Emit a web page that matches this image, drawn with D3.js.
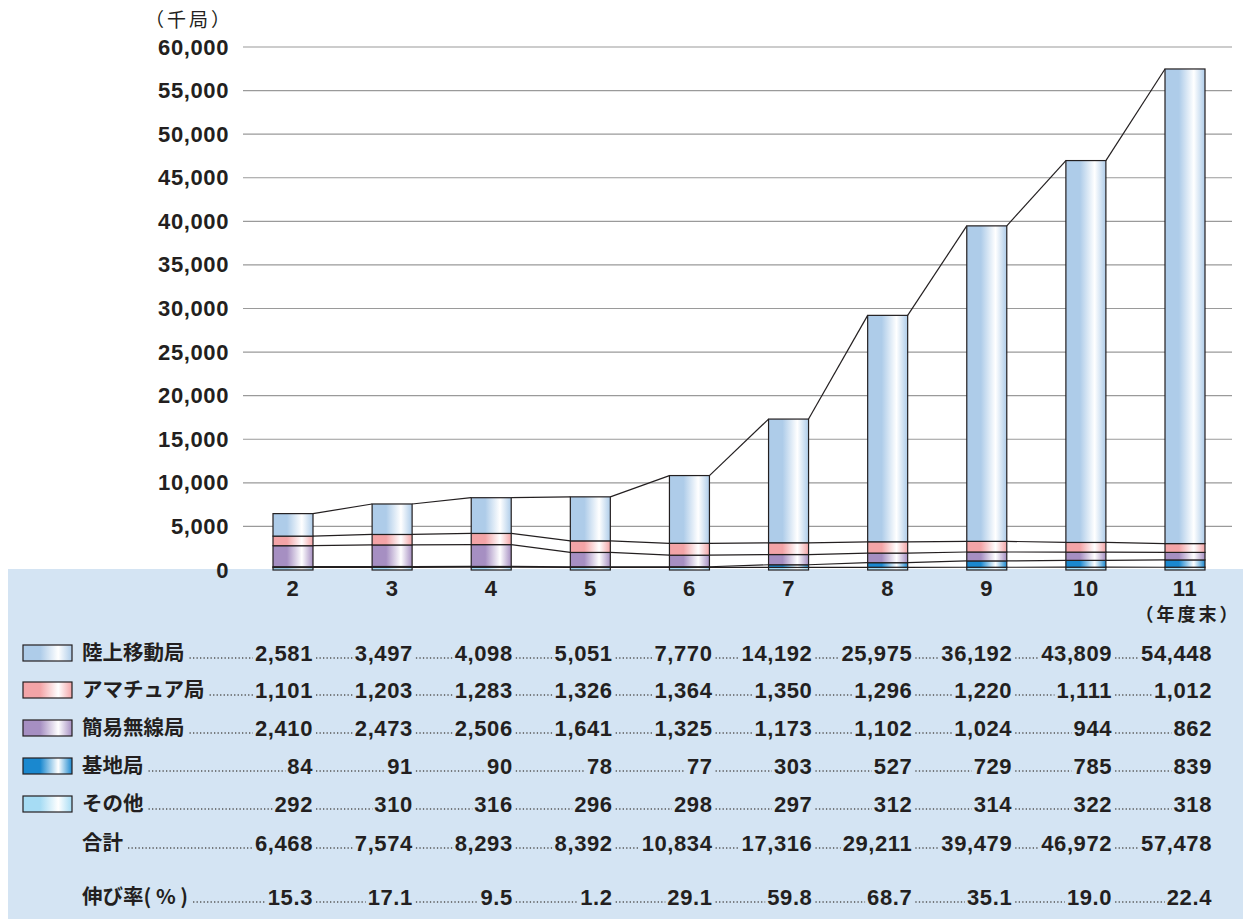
<!DOCTYPE html>
<html>
<head>
<meta charset="utf-8">
<script src="https://cdn.jsdelivr.net/npm/d3@7"></script>
<style>
  body { margin: 0; background: #fff; }
  svg { display: block; }
  .num { font-family: "Liberation Sans", Arial, sans-serif; font-weight: bold; font-size: 22px; letter-spacing: 0.6px; fill: #231f20; }
  .jp { font-family: "Noto Sans CJK JP", sans-serif; font-weight: bold; font-size: 20.5px; fill: #231f20; }
</style>
</head>
<body>
<script>
// data (千局)
var years = ["2", "3", "4", "5", "6", "7", "8", "9", "10", "11"];
var rikujo = [2581, 3497, 4098, 5051, 7770, 14192, 25975, 36192, 43809, 54448];
var amateur = [1101, 1203, 1283, 1326, 1364, 1350, 1296, 1220, 1111, 1012];
var kani = [2410, 2473, 2506, 1641, 1325, 1173, 1102, 1024, 944, 862];
var kichi = [84, 91, 90, 78, 77, 303, 527, 729, 785, 839];
var sonota = [292, 310, 316, 296, 298, 297, 312, 314, 322, 318];
var totals = [6468, 7574, 8293, 8392, 10834, 17316, 29211, 39479, 46972, 57478];
var growth = ["15.3", "17.1", "9.5", "1.2", "29.1", "59.8", "68.7", "35.1", "19.0", "22.4"];
var yTicks = [0, 5000, 10000, 15000, 20000, 25000, 30000, 35000, 40000, 45000, 50000, 55000, 60000];

// stack order bottom -> top
var series = [
  {key: "sonota", name: "その他", values: sonota, color: "#a6dcf4"},
  {key: "kichi", name: "基地局", values: kichi, color: "#1a88cf"},
  {key: "kani", name: "簡易無線局", values: kani, color: "#a68fc2"},
  {key: "amateur", name: "アマチュア局", values: amateur, color: "#f3a4a7"},
  {key: "rikujo", name: "陸上移動局", values: rikujo, color: "#aecce9"}
];
// legend order
var legendOrder = ["rikujo", "amateur", "kani", "kichi", "sonota"];

var width = 1243, height = 919;
var svg = d3.select("body").append("svg")
    .attr("width", width)
    .attr("height", height);

var defs = svg.append("defs");
series.forEach(function (s) {
    var g = defs.append("linearGradient")
        .attr("id", "grad-" + s.key)
        .attr("x1", "0%").attr("x2", "100%").attr("y1", "0%").attr("y2", "0%");
    g.append("stop").attr("offset", "0%").attr("stop-color", s.color);
    g.append("stop").attr("offset", "35%").attr("stop-color", s.color);
    g.append("stop").attr("offset", "72%").attr("stop-color", "#ffffff");
    g.append("stop").attr("offset", "100%").attr("stop-color", s.color);
});

var y = d3.scaleLinear().domain([0, 60000]).range([570, 47]);
var x = d3.scalePoint().domain(years).range([293, 1185]);
var barW = 40;

// gridlines
svg.append("g")
    .selectAll("line")
    .data(yTicks.filter(function (d) { return d > 0; }))
    .enter()
    .append("line")
    .attr("x1", 243).attr("x2", 1232)
    .attr("y1", function (d) { return y(d); })
    .attr("y2", function (d) { return y(d); })
    .attr("stroke", "#9a9a9a")
    .attr("stroke-width", 1.2);

// table panel
svg.append("rect")
    .attr("x", 8).attr("y", 569)
    .attr("width", width - 8).attr("height", height - 569)
    .attr("fill", "#d4e4f3");

// y axis labels (after panel so 0 stays visible)
var yAxis = d3.axisLeft(y)
    .tickValues(yTicks)
    .tickFormat(d3.format(","))
    .tickSize(0)
    .tickPadding(0);
var ya = svg.append("g")
    .attr("transform", "translate(229,0)")
    .call(yAxis);
ya.select(".domain").remove();
ya.selectAll("text")
    .attr("class", "num")
    .attr("fill", null);
ya.attr("font-size", null).attr("font-family", null);

svg.append("text")
    .attr("x", 189).attr("y", 27)
    .attr("text-anchor", "middle")
    .style("font-family", "'Noto Sans CJK JP', sans-serif")
    .style("font-size", "19px")
    .style("letter-spacing", "3px")
    .style("fill", "#231f20")
    .text("（千局）");

// stacked data
var stacked = d3.stack().keys(series.map(function (s) { return s.key; }))(
    years.map(function (yr, i) {
        var o = {year: yr};
        series.forEach(function (s) { o[s.key] = s.values[i]; });
        return o;
    })
);

// connecting lines between bars (top of each layer)
var lineG = svg.append("g");
stacked.forEach(function (layer) {
    for (var i = 0; i < years.length - 1; i++) {
        lineG.append("line")
            .attr("x1", x(years[i]) + barW / 2)
            .attr("y1", y(layer[i][1]))
            .attr("x2", x(years[i + 1]) - barW / 2)
            .attr("y2", y(layer[i + 1][1]))
            .attr("stroke", "#231f20")
            .attr("stroke-width", 1.2);
    }
});

// bars
stacked.forEach(function (layer, li) {
    svg.append("g")
        .selectAll("rect")
        .data(layer)
        .enter()
        .append("rect")
        .attr("x", function (d) { return x(d.data.year) - barW / 2; })
        .attr("y", function (d) { return y(d[1]); })
        .attr("width", barW)
        .attr("height", function (d) { return y(d[0]) - y(d[1]); })
        .attr("fill", "url(#grad-" + series[li].key + ")")
        .attr("stroke", "#231f20")
        .attr("stroke-width", 1.2);
});

// x labels
svg.append("g")
    .selectAll("text")
    .data(years)
    .enter()
    .append("text")
    .attr("class", "num")
    .attr("x", function (d) { return x(d); })
    .attr("y", 596)
    .attr("text-anchor", "middle")
    .text(function (d) { return d; });

svg.append("text")
    .attr("class", "jp")
    .style("font-size", "18px")
    .style("letter-spacing", "3px")
    .attr("x", x("11") + 3).attr("y", 621)
    .attr("text-anchor", "middle")
    .text("（年度末）");

// table rows
var rows = legendOrder.map(function (k) {
    var s = series.find(function (d) { return d.key === k; });
    return {name: s.name, key: s.key, vals: s.values.map(d3.format(",")), swatch: true};
});
rows.push({name: "合計", vals: totals.map(d3.format(",")), swatch: false});
rows.push({name: "伸び率( % )", vals: growth, swatch: false});
var rowY = [653, 690, 728, 766, 804, 843, 897];
var colRight = d3.scaleLinear().domain([0, 9]).range([313, 1212]);

rows.forEach(function (r, ri) {
    var cy = rowY[ri];
    var g = svg.append("g");
    if (r.swatch) {
        g.append("rect")
            .attr("x", 23).attr("y", cy - 8)
            .attr("width", 49).attr("height", 16)
            .attr("fill", "url(#grad-" + r.key + ")")
            .attr("stroke", "#231f20")
            .attr("stroke-width", 1.2);
    }
    var lab = g.append("text")
        .attr("class", "jp")
        .attr("x", 82).attr("y", cy + 7)
        .text(r.name);
    var prevEnd = 82 + lab.node().getComputedTextLength() + 5;
    r.vals.forEach(function (v, i) {
        var t = g.append("text")
            .attr("class", "num")
            .attr("x", colRight(i)).attr("y", cy + 8)
            .attr("text-anchor", "end")
            .text(v);
        var start = colRight(i) - t.node().getComputedTextLength() - 2;
        g.append("line")
            .attr("x1", prevEnd).attr("x2", start)
            .attr("y1", cy + 5).attr("y2", cy + 5)
            .attr("stroke", "#555")
            .attr("stroke-width", 1.3)
            .attr("stroke-dasharray", "1.3,2.2");
        prevEnd = colRight(i) + 3;
    });
});
</script>
</body>
</html>
